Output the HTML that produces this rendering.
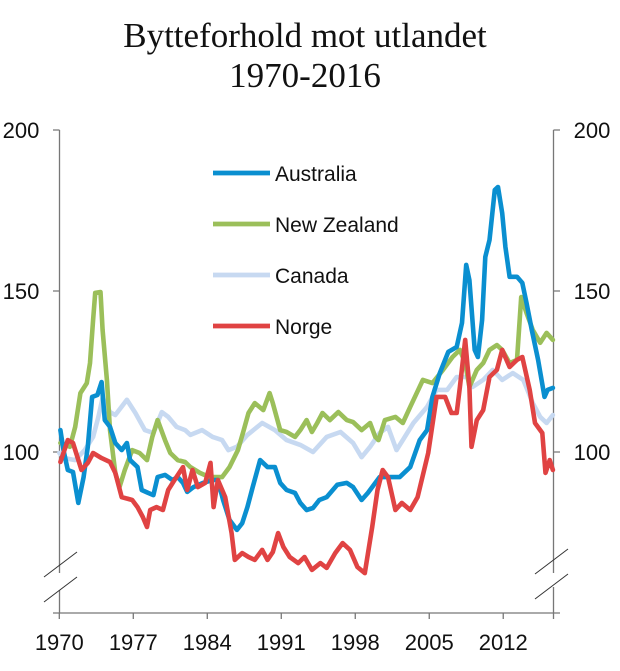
<!DOCTYPE html>
<html><head><meta charset="utf-8"><style>
html,body{margin:0;padding:0;background:#fff;}
svg{display:block;font-family:"Liberation Sans",sans-serif;}
</style></head><body>
<svg id="chart" width="620" height="671" viewBox="0 0 620 671">
<text x="305" y="47" text-anchor="middle" font-family="Liberation Serif, serif" font-size="35" fill="#111">Bytteforhold mot utlandet</text>
<text x="305" y="87" text-anchor="middle" font-family="Liberation Serif, serif" font-size="35" fill="#111">1970-2016</text>
<g id="axes" stroke="#777" stroke-width="1.3" fill="none"></g>
<g id="series"></g>
<g id="legend"></g>
</svg>
<script>
const yTicks=[100,150,200];
const xTickYears=[1970,1977,1984,1991,1998,2005,2012];
const seriesNames=["Australia","New Zealand","Canada","Norge"];
const ausYears=[1970.1,1970.4,1970.8,1971.3,1971.8,1972.3,1972.7,1973.1,1973.6,1974.0,1974.3,1974.8,1975.3,1975.9,1976.4,1976.7,1977.4,1977.8,1978.4,1978.9,1979.3,1980.0,1980.7,1981.2,1981.7,1982.1,1982.7,1983.6,1984.5,1985.0,1985.5,1986.1,1986.8,1987.3,1987.8,1988.3,1989.0,1989.7,1990.4,1990.9,1991.5,1992.3,1992.8,1993.4,1994.0,1994.6,1995.3,1996.3,1997.2,1997.8,1998.6,1999.2,2000.3,2001.3,2002.2,2003.2,2004.1,2004.8,2005.3,2006.0,2006.8,2007.6,2008.1,2008.5,2008.8,2009.3,2009.6,2010.0,2010.3,2010.7,2011.2,2011.5,2011.9,2012.2,2012.6,2013.3,2013.8,2014.2,2014.7,2015.3,2015.9,2016.2,2016.7];
const ausVals=[106.8,100.6,94.4,93.8,84.2,92.2,101.6,117.1,117.7,121.7,109.9,107.8,102.8,100.6,102.8,97.5,95.3,88.2,87.3,86.6,92.2,92.9,91.3,92.2,90.4,87.6,89.1,90.4,91.3,91.3,85.1,78.9,75.8,77.9,82.9,89.1,97.5,95.3,95.3,90.4,88.2,87.3,84.2,82.0,82.6,85.1,86.0,89.8,90.4,89.1,85.1,87.3,92.2,92.2,92.2,95.3,103.7,106.8,117.1,124.5,131.1,132.6,140.1,158.1,153.4,131.7,129.5,141.0,160.6,165.8,181.4,182.3,174.2,163.7,154.4,154.4,152.5,146.3,137.9,128.6,117.1,119.3,119.9];
const nzYears=[1970.1,1971.0,1971.5,1972.0,1972.6,1972.9,1973.2,1973.4,1973.9,1974.1,1974.5,1974.8,1975.3,1975.7,1976.2,1976.9,1977.6,1978.3,1978.8,1979.3,1980.0,1980.5,1981.2,1981.9,1982.4,1983.3,1984.2,1985.4,1986.1,1986.9,1987.4,1987.9,1988.5,1989.3,1989.9,1990.2,1990.9,1991.5,1992.3,1992.8,1993.4,1993.9,1994.4,1994.9,1995.6,1996.4,1997.2,1997.8,1998.6,1999.4,1999.9,2000.2,2000.8,2001.8,2002.5,2003.2,2004.4,2005.3,2006.3,2007.2,2007.9,2008.4,2008.8,2009.5,2010.1,2010.7,2011.4,2011.9,2012.6,2013.3,2013.7,2014.2,2014.8,2015.5,2016.1,2016.7];
const nzVals=[102.8,101.6,107.8,118.3,121.4,127.6,141.0,149.4,149.7,137.9,122.4,106.8,93.5,89.1,94.4,100.6,99.7,97.5,104.7,109.9,103.7,99.7,97.5,96.9,95.3,93.5,92.2,92.2,95.3,100.6,106.2,112.1,115.2,113.0,118.3,115.2,106.8,106.2,104.7,106.8,109.9,106.2,109.0,112.1,109.9,112.4,109.9,109.3,106.8,109.0,104.7,103.7,109.9,110.9,109.0,114.0,122.4,121.4,125.5,129.5,131.7,127.6,120.2,125.5,127.6,131.7,133.2,131.7,127.6,128.6,148.1,143.2,137.9,133.9,137.0,134.8];
const canYears=[1970.0,1970.5,1971.5,1972.4,1973.2,1973.7,1974.1,1974.8,1975.3,1976.4,1977.2,1978.1,1978.9,1979.7,1980.3,1981.1,1981.9,1982.4,1983.5,1984.5,1985.4,1986.0,1986.8,1987.8,1989.2,1990.4,1991.5,1992.8,1994.0,1995.3,1996.6,1997.8,1998.6,1999.4,2000.3,2001.1,2001.9,2002.5,2003.5,2004.8,2005.7,2006.7,2007.6,2008.6,2009.1,2010.1,2011.0,2011.9,2012.9,2013.9,2014.8,2015.5,2016.1,2016.7];
const canVals=[99.7,98.1,97.5,100.6,104.7,110.9,116.8,112.4,111.5,116.2,112.1,106.8,105.9,112.4,110.9,107.8,106.8,105.3,106.8,104.7,103.7,100.6,101.6,105.3,109.0,106.8,103.7,102.2,100.0,104.7,106.2,102.8,98.4,101.6,105.9,107.8,100.6,103.7,109.0,114.0,119.3,119.3,123.3,123.3,120.2,122.4,125.5,122.4,124.5,122.4,115.2,110.9,109.0,111.5];
const norYears=[1970.1,1970.8,1971.3,1972.1,1972.7,1973.2,1974.0,1974.8,1975.3,1975.9,1976.9,1977.4,1977.9,1978.3,1978.6,1979.2,1979.8,1980.3,1980.9,1981.7,1982.1,1982.6,1983.1,1983.8,1984.3,1984.6,1985.0,1985.7,1986.3,1986.6,1987.3,1987.9,1988.5,1989.2,1989.7,1990.2,1990.7,1991.2,1991.8,1992.6,1993.2,1993.9,1994.7,1995.3,1996.1,1996.8,1997.5,1998.2,1998.9,1999.6,2000.1,2000.6,2001.1,2001.8,2002.4,2003.2,2003.9,2004.9,2005.7,2006.5,2007.1,2007.6,2007.9,2008.4,2008.8,2009.0,2009.5,2010.1,2010.7,2011.4,2011.9,2012.6,2013.3,2013.8,2014.5,2015.0,2015.7,2016.0,2016.4,2016.7];
const norVals=[96.9,103.7,102.8,94.4,96.6,99.7,98.1,96.9,93.5,86.0,85.1,82.9,79.8,76.7,82.0,82.9,82.0,88.2,91.3,95.3,88.2,94.4,89.1,90.4,96.6,82.9,91.3,86.0,74.8,66.5,68.6,67.4,66.5,69.6,66.5,68.9,74.8,70.5,67.4,65.5,67.4,63.4,65.5,64.0,68.6,71.7,69.6,64.3,62.4,76.7,88.2,94.4,92.2,82.0,84.2,82.0,86.0,99.7,117.1,117.1,112.1,112.1,120.2,134.8,120.2,101.6,109.9,113.0,123.3,125.5,131.7,126.4,128.6,129.5,119.3,109.0,105.9,93.5,97.5,94.4];

const NS='http://www.w3.org/2000/svg';
const X0=59.3, PXY=10.57, Y100=452, PXV=3.22;
function xs(t){return X0+(t-1970)*PXY;}
function ys(v){return Y100-(v-100)*PXV;}
function mk(tag,attrs,parent){const e=document.createElementNS(NS,tag);for(const k in attrs)e.setAttribute(k,attrs[k]);parent.appendChild(e);return e;}
const axes=document.getElementById('axes');
const svg=document.getElementById('chart');
let el;
el=mk('path',{d:'M59.5 130 V573 M59.5 590 V613'},axes);


el=mk('path',{d:'M553.5 130 V573 M553.5 587 V613'},axes);


el=mk('path',{d:'M53 613 H560'},axes);


el=mk('path',{d:'M44 577 L77 552 M44 602 L77 577 M535 574 L568 549 M535 599 L568 574',stroke:'#333','stroke-width':'1'},axes);


yTicks.forEach(v=>{
  const y=ys(v);
  el=mk('path',{d:`M53 ${y} H59.5 M553.5 ${y} H560`},axes);
  
  
  let t=mk('text',{x:21,y:y+8,'text-anchor':'middle','font-size':'22',fill:'#111',stroke:'none'},svg);
  t.textContent=v;
  
  
  t=mk('text',{x:592,y:y+8,'text-anchor':'middle','font-size':'22',fill:'#111',stroke:'none'},svg);
  t.textContent=v;
  
  
});
xTickYears.forEach(yr=>{
  const x=xs(yr);
  el=mk('path',{d:`M${x} 613 V619`},axes);
  
  
  const t=mk('text',{x:x,y:650,'text-anchor':'middle','font-size':'22',fill:'#111'},svg);
  t.textContent=yr;
  
  
});
el=mk('path',{d:`M553.5 613 V619`},axes);



const colors=['#0a8fd0','#9bbf5a','#c7d9f1','#e04343'];
const data=[[ausYears,ausVals],[nzYears,nzVals],[canYears,canVals],[norYears,norVals]];
const drawOrder=[2,1,0,3];
const sg=document.getElementById('series');
drawOrder.forEach(i=>{
  const [yrs,vals]=data[i];
  const d=yrs.map((t,k)=>(k?'L':'M')+xs(t).toFixed(1)+' '+ys(vals[k]).toFixed(1)).join(' ');
  const p=mk('path',{d:d,fill:'none',stroke:colors[i],'stroke-width':'4.6','stroke-linejoin':'round','stroke-linecap':'round'},sg);
  
  
});
const lg=document.getElementById('legend');
seriesNames.forEach((n,i)=>{
  const y=173+i*51;
  const g=mk('g',{},lg);
  
  
  mk('line',{x1:213,x2:270,y1:y,y2:y,stroke:colors[i],'stroke-width':'4.8'},g);
  const t=mk('text',{x:275,y:y+8,'font-size':'21',fill:'#111'},g);
  t.textContent=n;
});
</script>
</body></html>
